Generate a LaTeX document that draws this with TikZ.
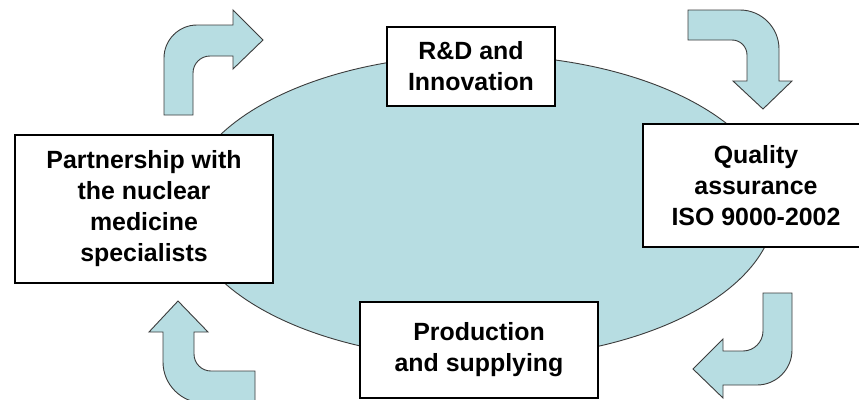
\documentclass[tikz,border=0pt]{standalone}
\usepackage{fontspec}
\setmainfont{Liberation Sans}
\usetikzlibrary{shapes.geometric}

\definecolor{hubfill}{RGB}{183,221,226}
\definecolor{edgegray}{RGB}{60,60,60}

\tikzset{
  hub/.style={ellipse, fill=hubfill, draw=edgegray, line width=0.9pt, inner sep=0pt},
  stagebox/.style={rectangle, fill=white, draw=black, line width=1.2pt, inner sep=0pt,
    align=center, font=\fontsize{24.9}{31}\selectfont\bfseries},
  bentarrow/.style={fill=hubfill, draw=edgegray, line width=0.9pt, line join=miter},
}

\begin{document}
\begin{tikzpicture}[x=1pt,y=-1pt]
  \useasboundingbox (0,0) rectangle (859,399);
  \clip (0,0) rectangle (859,399);
  \fill[white] (0,0) rectangle (859,399);

  % central cycle
  \node[hub, minimum width=590pt, minimum height=304pt] (cycle) at (480,207) {};

  % stages of the cycle
  \node[stagebox, minimum width=168pt, minimum height=79pt] (rnd) at (471,66.5)
    {R\&D and\\Innovation};
  \node[stagebox, minimum width=226pt, minimum height=123pt] (quality) at (756,185.5)
    {Quality\\assurance\\ISO 9000-2002};
  \node[stagebox, minimum width=238pt, minimum height=96pt] (production) at (479,350)
    {Production\\and supplying};
  \node[stagebox, minimum width=258pt, minimum height=148pt] (partner) at (144,209)
    {Partnership with\\the nuclear\\medicine\\specialists};

  % bent arrows running clockwise round the cycle
  % top left: up, then right
  \draw[bentarrow] (164,115) -- (164,58)
    .. controls (164,39.8) and (178.8,25) .. (197,25)
    -- (233,25) -- (233,10) -- (263,40) -- (233,69) -- (233,56) -- (210,56)
    .. controls (200.6,56) and (193,63.6) .. (193,73)
    -- (193,115) -- cycle;

  % top right: right, then down
  \draw[bentarrow] (688,10) -- (740,10)
    .. controls (761.5,10) and (779,27.5) .. (779,49)
    -- (779,81) -- (792,81) -- (763,109) -- (733,81) -- (747,81) -- (747,55)
    .. controls (747,46.7) and (740.3,40) .. (732,40)
    -- (688,40) -- cycle;

  % bottom right: down, then left
  \draw[bentarrow] (763,293) -- (792,293) -- (792,350)
    .. controls (792,369.3) and (776.3,385) .. (757,385)
    -- (723,385) -- (723,398) -- (693,369) -- (723,339) -- (723,351) -- (743,351)
    .. controls (754,351) and (763,342) .. (763,331)
    -- cycle;

  % bottom left: left, then up
  \draw[bentarrow] (255,371) -- (211,371)
    .. controls (201.6,371) and (194,363.4) .. (194,354)
    -- (194,332) -- (208,332) -- (178,301) -- (149,332) -- (163,332) -- (163,362)
    .. controls (163,384.6) and (181.4,403) .. (204,403)
    -- (255,403) -- cycle;
\end{tikzpicture}
\end{document}
